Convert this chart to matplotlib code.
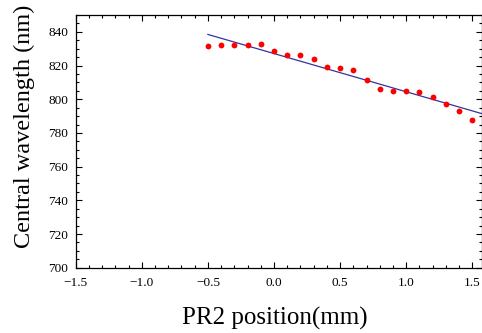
import numpy as np
import matplotlib
matplotlib.use("Agg")
import matplotlib.pyplot as plt
from matplotlib.ticker import MultipleLocator

# PR2 position (mm) and measured central wavelength (nm)
position = [-0.5, -0.4, -0.3, -0.2, -0.1, 0.0, 0.1, 0.2, 0.3, 0.4, 0.5,
            0.6, 0.7, 0.8, 0.9, 1.0, 1.1, 1.2, 1.3, 1.4, 1.5]
wavelength = [831.5, 831.9, 831.9, 832.3, 832.9, 828.5, 826.3, 826.1, 824.0,
              819.4, 818.4, 817.2, 811.3, 806.3, 805.1, 804.9, 804.2, 801.2,
              797.4, 792.9, 787.5]

plt.rcParams['font.family'] = ['Liberation Serif', 'DejaVu Serif']

W, H = 482, 333
fig = plt.figure(figsize=(W / 100, H / 100), dpi=100)
ax = fig.add_axes([75.7 / W, (H - 267.7) / H, 1 - 75.7 / W, (267.7 - 15) / H])

xmax = 1.573
# linear fit of the measured points
k, b = np.polyfit(position, wavelength, 1)
xf = np.array([position[0], xmax])
ax.plot(xf, k * xf + b, color="#33339e", lw=0.9)
ax.plot(position, wavelength, 'o', color="red", ms=4.2, mec="none")

ax.set_xlim(-1.5, xmax)
ax.set_ylim(700, 850)
ax.xaxis.set_major_locator(MultipleLocator(0.5))
ax.xaxis.set_minor_locator(MultipleLocator(0.1))
ax.yaxis.set_major_locator(MultipleLocator(20))
ax.yaxis.set_minor_locator(MultipleLocator(5))
ax.tick_params(which='both', direction='in', top=True, right=True,
               labelsize=9.5, width=0.8)
ax.tick_params(axis='x', pad=6.5)
ax.tick_params(axis='y', pad=5.5)
ax.tick_params(which='major', length=4)
ax.tick_params(which='minor', length=2)
for s in ax.spines.values():
    s.set_linewidth(0.9)

fig.text(274.5 / W, (H - 325) / H, "PR2 position(mm)", fontsize=18,
         ha='center', va='baseline')
fig.text(24 / W, 1 - 126.5 / H, "Central wavelength (nm)", fontsize=17.5,
         rotation=90, ha='center', va='center')

plt.savefig("out.png", dpi=100)
